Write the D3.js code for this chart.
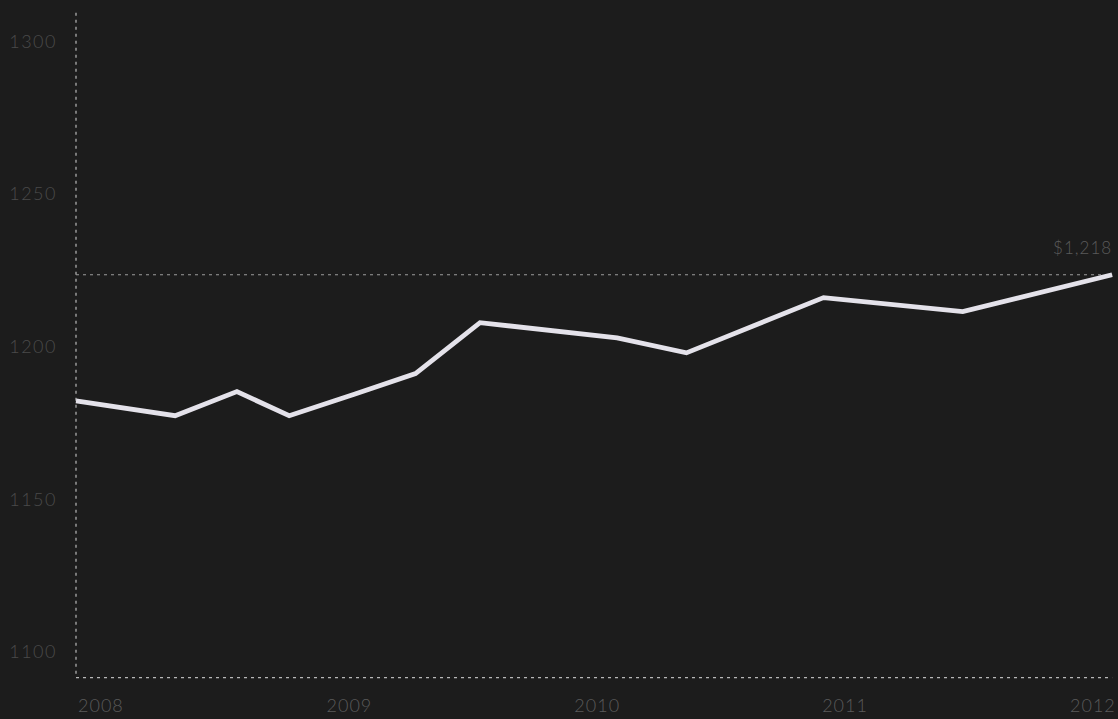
<!DOCTYPE html>
<html>
<head>
<meta charset="utf-8">
<script src="https://cdn.jsdelivr.net/npm/d3@7"></script>
<style>
  html, body { margin: 0; padding: 0; background: #1c1c1c; }
  svg { display: block; }
  text { font-family: "Lato", "Open Sans", sans-serif; font-weight: 300; }
</style>
</head>
<body>
<svg id="chart" width="1118" height="719"></svg>
<script>
// ---- data ----
const dates = ["2008-01-01","2008-05-26","2008-08-25","2008-11-10","2009-02-15","2009-05-15","2009-08-18","2010-03-08","2010-06-18","2011-01-06","2011-07-30","2012-03-06"];
const values = [1182.3, 1177.4, 1185.3, 1177.4, 1184.5, 1191.2, 1207.9, 1202.9, 1198.0, 1216.1, 1211.5, 1223.6];
const yTicks = [1100, 1150, 1200, 1250, 1300];
const xTickYears = [2008, 2009, 2010, 2011, 2012];
const lastLabel = "$1,218";
const yExtent = [1091.6, 1309.4];

// ---- layout ----
const svg = d3.select("#chart");
const parse = d3.timeParse("%Y-%m-%d");
const data = dates.map((d, i) => ({ date: parse(d), value: values[i] }));

const x = d3.scaleTime()
  .domain([new Date(2008, 0, 1), new Date(2012, 0, 1)])
  .range([76, 1068]);
const y = d3.scaleLinear().domain([1100, 1300]).range([652, 41.5]);

const xEnd = x(data[data.length - 1].date);
const x0 = x(new Date(2008, 0, 1));
const dashColor = "#b8b8b8";

// y axis dashed line
svg.append("line")
  .attr("x1", x0).attr("x2", x0)
  .attr("y1", y(yExtent[1])).attr("y2", y(yExtent[0]))
  .attr("stroke", dashColor).attr("stroke-width", 1.2)
  .attr("stroke-dasharray", "3,4");

// x axis dashed line
svg.append("line")
  .attr("x1", x0).attr("x2", xEnd)
  .attr("y1", y(yExtent[0])).attr("y2", y(yExtent[0]))
  .attr("stroke", dashColor).attr("stroke-width", 1.2)
  .attr("stroke-dasharray", "3,4");

// reference line at last value
const last = data[data.length - 1];
svg.append("line")
  .attr("x1", x0).attr("x2", xEnd)
  .attr("y1", y(last.value)).attr("y2", y(last.value))
  .attr("stroke", "#9a9a9a").attr("stroke-width", 1.1)
  .attr("stroke-dasharray", "3,4");

// y tick labels
svg.append("g").selectAll("text").data(yTicks).join("text")
  .attr("x", 57).attr("y", d => y(d))
  .attr("dy", "0.35em")
  .attr("text-anchor", "end")
  .attr("fill", "#4a4a4a")
  .attr("font-size", 18)
  .attr("letter-spacing", 1.5)
  .text(d => d);

// x tick labels
svg.append("g").selectAll("text").data(xTickYears).join("text")
  .attr("x", d => x(new Date(d, 0, 1)) + 2).attr("y", 712)
  .attr("text-anchor", "start")
  .attr("fill", "#5a5a5a")
  .attr("font-size", 18)
  .attr("letter-spacing", 1)
  .text(d => d);

// last value label
svg.append("text")
  .attr("x", xEnd).attr("y", y(last.value) - 21)
  .attr("text-anchor", "end")
  .attr("fill", "#5a5a5a")
  .attr("font-size", 17)
  .attr("letter-spacing", 1)
  .text(lastLabel);

// line
const line = d3.line().x(d => x(d.date)).y(d => y(d.value));
svg.append("path").datum(data)
  .attr("d", line)
  .attr("fill", "none")
  .attr("stroke", "#e4e2ea")
  .attr("stroke-width", 4.8)
  .attr("stroke-linejoin", "miter")
  .attr("stroke-linecap", "butt");
</script>
</body>
</html>
